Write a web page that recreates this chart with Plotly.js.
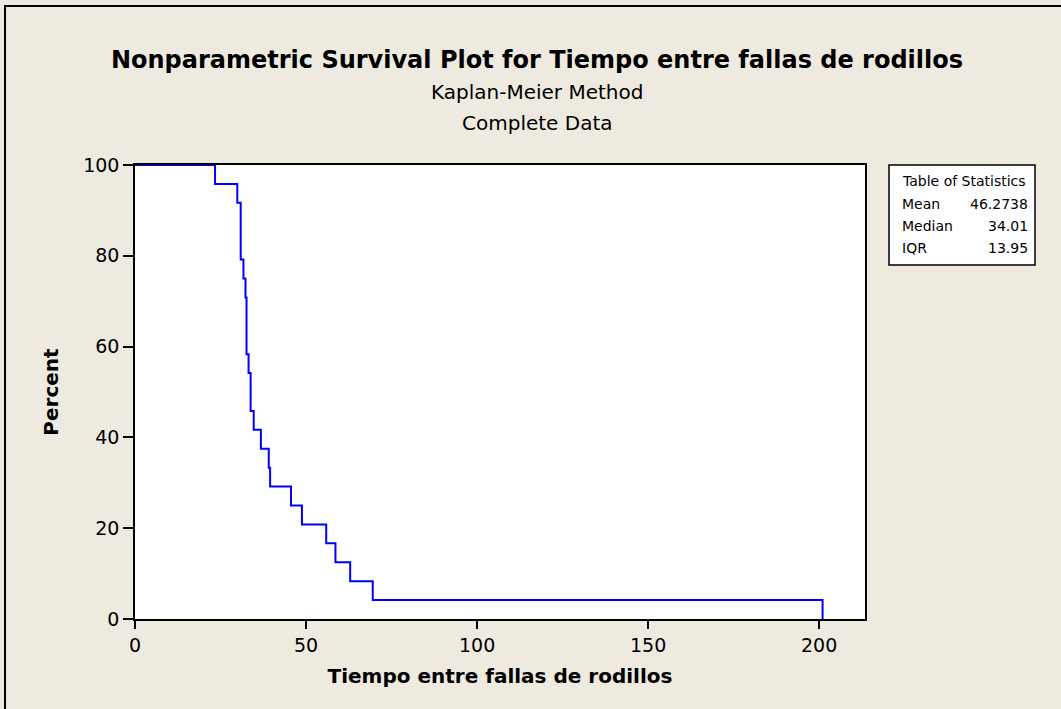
<!DOCTYPE html>
<html>
<head>
<meta charset="utf-8">
<script src="https://cdn.plot.ly/plotly-3.0.1.min.js"></script>
<style>
html,body{margin:0;padding:0;background:#EEEAE0;}
#chart{width:1061px;height:709px;}
</style>
</head>
<body>
<div id="chart"></div>
<script>
// Kaplan-Meier step points
const times = [0, 23.4, 29.9, 30.9, 31.7, 32.3, 32.6, 33.2, 33.8, 34.7, 36.8, 39.1, 39.5, 45.6, 48.8, 55.9, 58.6, 62.9, 69.5, 201.0];
const survivalPct = [100, 95.83, 91.67, 79.17, 75.0, 70.83, 58.33, 54.17, 45.83, 41.67, 37.5, 33.33, 29.17, 25.0, 20.83, 16.67, 12.5, 8.33, 4.17, 0];
const xTicks = [0, 50, 100, 150, 200];
const yTicks = [0, 20, 40, 60, 80, 100];
const statLabels = ["Mean", "Median", "IQR"];
const statValues = ["46.2738", "34.01", "13.95"];

const titleText = "Nonparametric Survival Plot for Tiempo entre fallas de rodillos";
const subTitles = ["Kaplan-Meier Method", "Complete Data"];

const FONT = "DejaVu Sans, Verdana, sans-serif";
const L = 135, R = 865, T = 165, B = 619, W = 1061, H = 709;
const pw = R - L, ph = B - T;
const px = x => (x - L) / pw;
const py = y => (B - y) / ph;

const trace = {
  x: times, y: survivalPct, type: 'scatter', mode: 'lines',
  line: {shape: 'hv', color: '#0000FF', width: 2},
  hoverinfo: 'x+y', showlegend: false
};

const annotations = [];
subTitles.forEach((t, i) => {
  annotations.push({text: t, xref: 'paper', yref: 'paper', x: px(537), y: py(92 + i * 31),
    showarrow: false, xanchor: 'center', yanchor: 'middle',
    font: {family: FONT, size: 20, color: '#000'}});
});
annotations.push({text: "Table of Statistics", xref: 'paper', yref: 'paper', x: px(900), y: py(181),
  showarrow: false, xanchor: 'left', yanchor: 'middle', font: {family: FONT, size: 14, color: '#000'}});
statLabels.forEach((lab, i) => {
  annotations.push({text: lab, xref: 'paper', yref: 'paper', x: px(900), y: py(204 + i * 22),
    showarrow: false, xanchor: 'left', yanchor: 'middle', font: {family: FONT, size: 14, color: '#000'}});
  annotations.push({text: statValues[i], xref: 'paper', yref: 'paper', x: px(1030), y: py(204 + i * 22),
    showarrow: false, xanchor: 'right', yanchor: 'middle', font: {family: FONT, size: 14, color: '#000'}});
});

const shapes = [
  {type: 'rect', xref: 'paper', yref: 'paper', x0: px(889), x1: px(1035), y0: py(165), y1: py(265),
   line: {color: '#000', width: 1.5}, fillcolor: '#FFFFFF', layer: 'below'},
  {type: 'line', xref: 'paper', yref: 'paper', x0: px(5), x1: px(5), y0: py(5), y1: py(712),
   line: {color: '#000', width: 2}},
  {type: 'line', xref: 'paper', yref: 'paper', x0: px(5), x1: px(1070), y0: py(6), y1: py(6),
   line: {color: '#000', width: 2}}
];

const layout = {
  width: W, height: H,
  margin: {l: L, r: W - R, t: T, b: H - B, pad: 0},
  paper_bgcolor: '#EEEAE0', plot_bgcolor: '#FFFFFF',
  title: {text: '<b>' + titleText + '</b>', x: px(537), xref: 'paper', xanchor: 'center',
    y: 1 - 60 / H, yref: 'container', yanchor: 'middle',
    font: {family: FONT, size: 24, color: '#000'}},
  xaxis: {range: [0, 213.4], tickvals: xTicks, ticktext: xTicks.map(String),
    showline: true, linecolor: '#000', linewidth: 1.5, mirror: true,
    ticks: 'outside', ticklen: 8, tickcolor: '#000', tickwidth: 1.5,
    showgrid: false, zeroline: false,
    tickfont: {family: FONT, size: 19, color: '#000'},
    title: {text: '<b>Tiempo entre fallas de rodillos</b>', standoff: 14,
      font: {family: FONT, size: 20, color: '#000'}}},
  yaxis: {range: [0, 100], tickvals: yTicks, ticktext: yTicks.map(String),
    showline: true, linecolor: '#000', linewidth: 1.5, mirror: true,
    ticks: 'outside', ticklen: 10, tickcolor: '#000', tickwidth: 1.5,
    showgrid: false, zeroline: false,
    tickfont: {family: FONT, size: 19, color: '#000'},
    title: {text: '<b>Percent</b>', standoff: 19,
      font: {family: FONT, size: 20, color: '#000'}}},
  annotations: annotations,
  shapes: shapes
};

Plotly.newPlot('chart', [trace], layout, {displayModeBar: false});
</script>
</body>
</html>
